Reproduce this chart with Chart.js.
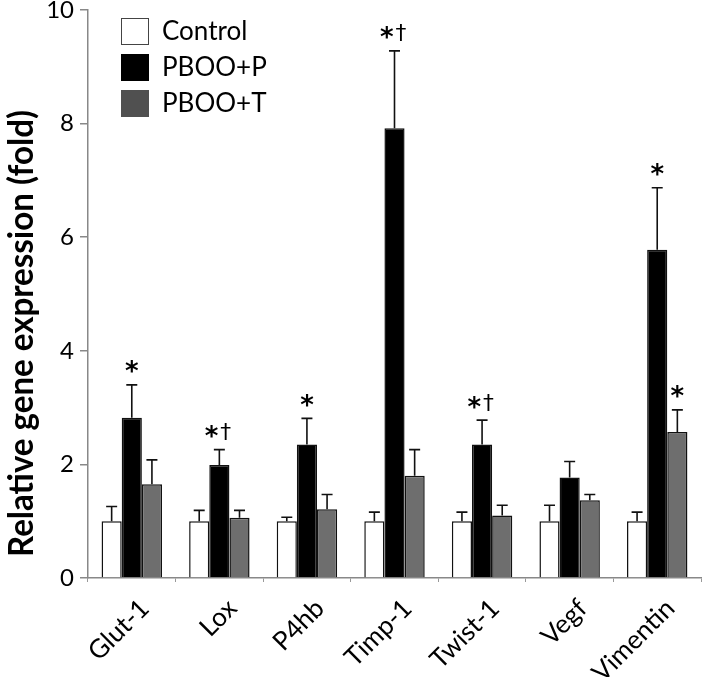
<!DOCTYPE html>
<html>
<head>
<meta charset="utf-8">
<script src="https://cdn.jsdelivr.net/npm/chart.js@4.4.0/dist/chart.umd.min.js"></script>
<style>
html,body{margin:0;padding:0;background:#fff;}
#wrap{width:704px;height:677px;position:relative;}
</style>
</head>
<body>
<div id="wrap"><canvas id="c"></canvas></div>
<script>
const categories = ['Glut-1','Lox','P4hb','Timp-1','Twist-1','Vegf','Vimentin'];
const seriesNames = ['Control','PBOO+P','PBOO+T'];
const controlMean = [1.00,1.00,1.00,1.00,1.00,1.00,1.00];
const controlSem  = [0.26,0.19,0.07,0.16,0.16,0.28,0.16];
const pbooPMean   = [2.82,1.99,2.35,7.92,2.35,1.77,5.78];
const pbooPSem    = [0.58,0.27,0.46,1.36,0.43,0.28,1.09];
const pbooTMean   = [1.65,1.06,1.21,1.80,1.10,1.37,2.57];
const pbooTSem    = [0.43,0.13,0.26,0.46,0.18,0.10,0.39];
const controlMarks = ['','','','','','',''];
const pbooPMarks   = ['*','*†','*','*†','*†','','*'];
const pbooTMarks   = ['','','','','','','*'];
const yTicks = [0,2,4,6,8,10];
const yTitle = 'Relative gene expression (fold)';

const FONT = 'Lato, "Open Sans", sans-serif';
const MARKFONT = '"DejaVu Sans", sans-serif';
const fills = ['#ffffff','#000000','#6e6e6e'];
const legendFills = ['#ffffff','#000000','#505050'];
const sems = [controlSem, pbooPSem, pbooTSem];
const marks = [controlMarks, pbooPMarks, pbooTMarks];

const errorBars = {
  id:'errorBars',
  afterDatasetsDraw(chart){
    const ctx = chart.ctx, ys = chart.scales.y;
    ctx.save();
    ctx.strokeStyle = '#111'; ctx.lineWidth = 1.6;
    chart.data.datasets.forEach((ds,i)=>{
      const meta = chart.getDatasetMeta(i);
      meta.data.forEach((el,j)=>{
        const top = ys.getPixelForValue(ds.data[j] + sems[i][j]);
        ctx.beginPath();
        ctx.moveTo(el.x, el.y); ctx.lineTo(el.x, top);
        ctx.moveTo(el.x-5.5, top); ctx.lineTo(el.x+5.5, top);
        ctx.stroke();
        const m = marks[i][j];
        if (m){
          ctx.fillStyle = '#000';
          ctx.textBaseline = 'alphabetic';
          const cy = top - 18;
          ctx.font = 'bold 26px ' + MARKFONT;
          const sm = ctx.measureText('*');
          const sAsc = sm.actualBoundingBoxAscent, sDesc = sm.actualBoundingBoxDescent;
          const starBase = cy + (sAsc - sDesc)/2;
          const starTop = starBase - sAsc;
          if (m.length === 1){
            ctx.textAlign = 'center';
            ctx.fillText('*', el.x, starBase);
          } else {
            ctx.textAlign = 'right';
            ctx.fillText('*', el.x - 1, starBase);
            ctx.font = '100px ' + MARKFONT;
            const d100 = ctx.measureText('†');
            const h100 = d100.actualBoundingBoxAscent + d100.actualBoundingBoxDescent;
            const size = 18 / h100 * 100;
            ctx.font = size.toFixed(1) + 'px ' + MARKFONT;
            const dm = ctx.measureText('†');
            ctx.textAlign = 'left';
            ctx.fillText('†', el.x + 1, starTop - 2 + dm.actualBoundingBoxAscent);
          }
        }
      });
    });
    ctx.restore();
  }
};

const legendPlugin = {
  id:'customLegend',
  afterDraw(chart){
    const ctx = chart.ctx;
    ctx.save();
    seriesNames.forEach((n,i)=>{
      const y = 18 + i*36;
      ctx.fillStyle = legendFills[i];
      ctx.fillRect(121, y, 28, 27);
      ctx.strokeStyle = i===0 ? '#444' : legendFills[i];
      ctx.lineWidth = 1;
      ctx.strokeRect(121.5, y+0.5, 27, 26);
      ctx.fillStyle = '#000';
      ctx.font = '26px ' + FONT;
      ctx.textAlign = 'left'; ctx.textBaseline = 'middle';
      ctx.fillText(n, 162, y + 14);
    });
    // y axis title
    ctx.translate(33, 333.5);
    ctx.rotate(-Math.PI/2);
    ctx.font = 'bold 35px ' + FONT;
    const w = ctx.measureText(yTitle).width;
    const sx = Math.min(1, 447 / w);
    ctx.scale(sx, 1);
    ctx.textAlign = 'center'; ctx.textBaseline = 'alphabetic';
    ctx.fillText(yTitle, 0, 0);
    ctx.restore();
  }
};

new Chart(document.getElementById('c'), {
  type:'bar',
  data:{
    labels: categories,
    datasets:[
      {label:seriesNames[0], data:controlMean, backgroundColor:fills[0], borderColor:'#111', borderWidth:1.5},
      {label:seriesNames[1], data:pbooPMean, backgroundColor:fills[1], borderColor:'#111', borderWidth:1.5},
      {label:seriesNames[2], data:pbooTMean, backgroundColor:fills[2], borderColor:'#111', borderWidth:1.5}
    ]
  },
  options:{
    responsive:true, maintainAspectRatio:false, animation:false,
    devicePixelRatio:1,
    layout:{padding:{top:10,right:3,left:0,bottom:0}},
    plugins:{legend:{display:false}, tooltip:{enabled:false}},
    datasets:{bar:{categoryPercentage:0.69, barPercentage:1.0}},
    scales:{
      x:{
        grid:{drawOnChartArea:false, offset:true, tickLength:4, color:'#999', lineWidth:1},
        border:{color:'#888', width:1.5},
        ticks:{maxRotation:45, minRotation:45, color:'#000', font:{family:FONT, size:26}, padding:11, labelOffset:13},
        afterFit(s){ s.height = 99; s.paddingLeft = 0; s.paddingRight = 0; }
      },
      y:{
        min:0, max:10,
        afterBuildTicks(s){ s.ticks = yTicks.map(v=>({value:v})); },
        grid:{drawOnChartArea:false, tickLength:8, color:'#888', lineWidth:1.5},
        border:{color:'#888', width:1.5},
        ticks:{color:'#000', font:{family:FONT, size:24}, padding:6},
        title:{display:false},
        afterFit(s){ s.width = 88; s.paddingTop = 0; s.paddingBottom = 0; }
      }
    }
  },
  plugins:[errorBars, legendPlugin]
});
</script>
</body>
</html>
